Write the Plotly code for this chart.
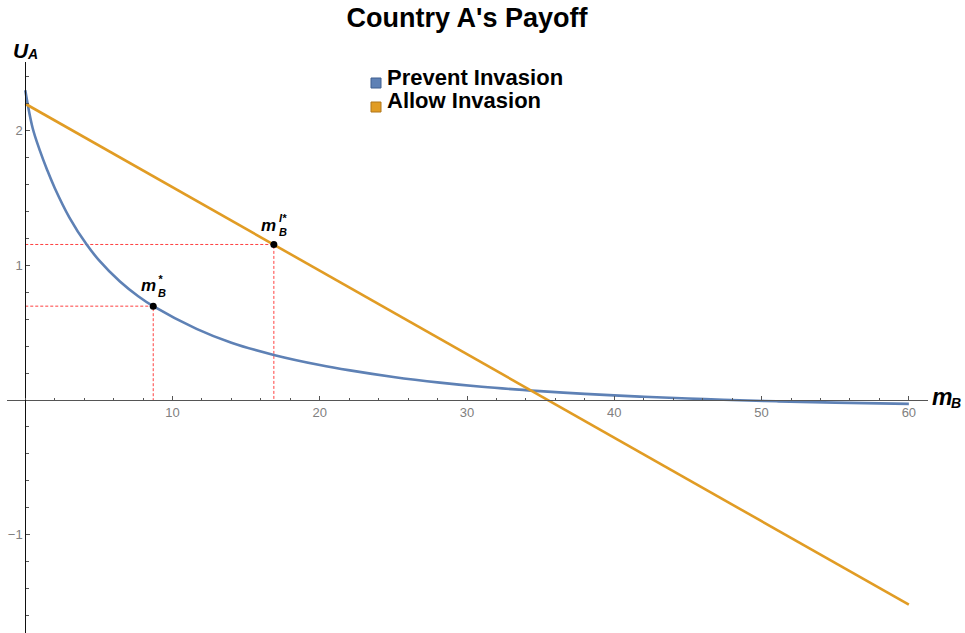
import plotly.graph_objects as go

# Country A's payoff from preventing the invasion, sampled along m_B
prevent_m = [0, 0.5, 1, 1.5, 2, 3, 4.17, 5, 6.43, 7.67, 8.69, 11.63, 14, 16.88,
             20, 22.05, 25, 28.15, 31, 34.94, 38, 41.73, 45, 47.4, 51, 55, 60]
prevent_u = [2.30, 2.02, 1.85, 1.705, 1.575, 1.355, 1.154, 1.039, 0.88, 0.771, 0.697,
             0.528, 0.425, 0.335, 0.26, 0.22, 0.171, 0.129, 0.098, 0.066, 0.046,
             0.0255, 0.011, 0.002, -0.0095, -0.0195, -0.0285]

# Payoff from allowing the invasion (linear in m_B)
allow_m = [0, 60]
allow_u = [2.2, -1.52]

# Marked optima
m_star, u_star = 8.69, 0.697
m_istar, u_istar = 16.88, 1.155

x_ticks = [10, 20, 30, 40, 50, 60]
y_ticks = [-1, 1, 2]

x_range = [-1.24, 61.3]
y_range = [-1.73, 2.51]

BLUE = "#5E81B5"
ORANGE = "#E19C24"
RED = "#FF4040"
FONT = "Liberation Sans, Arial, sans-serif"

fig = go.Figure()

# reference lines down to the axes
fig.add_trace(go.Scatter(x=[0, m_star, m_star], y=[u_star, u_star, 0], mode="lines",
                         line=dict(color=RED, width=1, dash="3px,2px"),
                         hoverinfo="skip", showlegend=False))
fig.add_trace(go.Scatter(x=[0, m_istar, m_istar], y=[u_istar, u_istar, 0], mode="lines",
                         line=dict(color=RED, width=1, dash="3px,2px"),
                         hoverinfo="skip", showlegend=False))

fig.add_trace(go.Scatter(x=prevent_m, y=prevent_u, mode="lines", name="Prevent Invasion",
                         line=dict(color=BLUE, width=2.6, shape="spline", smoothing=1.0),
                         showlegend=False))
fig.add_trace(go.Scatter(x=allow_m, y=allow_u, mode="lines", name="Allow Invasion",
                         line=dict(color=ORANGE, width=2.6), showlegend=False))

fig.add_trace(go.Scatter(x=[m_star, m_istar], y=[u_star, u_istar], mode="markers",
                         marker=dict(color="black", size=7), showlegend=False))

x_pos = (0 - x_range[0]) / (x_range[1] - x_range[0])
y_pos = (0 - y_range[0]) / (y_range[1] - y_range[0])

tickfont = dict(family=FONT, size=13, color="#808080")

fig.update_layout(
    width=965, height=633,
    margin=dict(l=7, r=37, t=62, b=0),
    paper_bgcolor="white", plot_bgcolor="white",
    font=dict(family=FONT),
    title=dict(text="<b>Country A's Payoff</b>", x=0.484, xanchor="center",
               y=1 - 18 / 633, yanchor="middle", yref="container",
               font=dict(family=FONT, size=27, color="black")),
    xaxis=dict(range=x_range, showgrid=False, zeroline=False, showline=True,
               linecolor="#555", linewidth=1, anchor="free", position=y_pos,
               tickmode="array", tickvals=x_ticks, ticks="inside", ticklen=4,
               tickcolor="#555", tickfont=tickfont,
               minor=dict(tickmode="linear", tick0=0, dtick=2, ticks="inside",
                          ticklen=2.5, tickcolor="#555")),
    yaxis=dict(range=y_range, showgrid=False, zeroline=False, showline=True,
               linecolor="#111", linewidth=1, anchor="free", position=x_pos,
               tickmode="array", tickvals=y_ticks, ticks="inside", ticklen=4,
               tickcolor="#555", tickfont=tickfont,
               minor=dict(tickmode="linear", tick0=0, dtick=0.2, ticks="inside",
                          ticklen=2.5, tickcolor="#555")),
)

bi = dict(family=FONT, color="black")
ann = []


def label(x, y, text, size, dx, dy, xref="x", yref="y", xanchor="center"):
    ann.append(dict(x=x, y=y, xref=xref, yref=yref, text="<b><i>%s</i></b>" % text,
                    showarrow=False, xshift=dx, yshift=dy, xanchor=xanchor, align="left",
                    font=dict(size=size, **bi)))


# point labels m_B^* and m_B^{I*}: stacked superscript over subscript
label(m_star, u_star, "m", 17, -5, 21)
label(m_star, u_star, "*<br>B", 11, 3, 20, xanchor="left")
label(m_istar, u_istar, "m", 17, -5, 19)
label(m_istar, u_istar, "I*<br>B", 11, 3, 19, xanchor="left")

# axis titles
label(0, 1, "U", 21, 6, 25, yref="paper", xanchor="right")
label(0, 1, "A", 14, 0, 18, yref="paper", xanchor="left")
label(1, 0, "m", 23, 26, 3, xref="paper", xanchor="right")
label(1, 0, "B", 14, 21, -3, xref="paper", xanchor="left")

# legend
legend_items = [("Prevent Invasion", BLUE, "#3f5f8f"), ("Allow Invasion", ORANGE, "#b0761a")]
leg_x = (385 - 7) / 921
shapes = []
for i, (name, col, edge) in enumerate(legend_items):
    ty = 1 - (77 + 24 * i - 62) / 571
    ann.append(dict(x=leg_x, y=ty, xref="paper", yref="paper", xanchor="left",
                    yanchor="middle", text="<b>%s</b>" % name, showarrow=False,
                    font=dict(family=FONT, size=22, color="black")))
    shapes.append(dict(type="rect", xref="paper", yref="paper",
                       xsizemode="pixel", ysizemode="pixel",
                       xanchor=leg_x, yanchor=ty, x0=-14, x1=-4, y0=-11, y1=-1,
                       fillcolor=col, line=dict(color=edge, width=1)))

fig.update_layout(annotations=ann, shapes=shapes)

fig.write_html("out.html")
